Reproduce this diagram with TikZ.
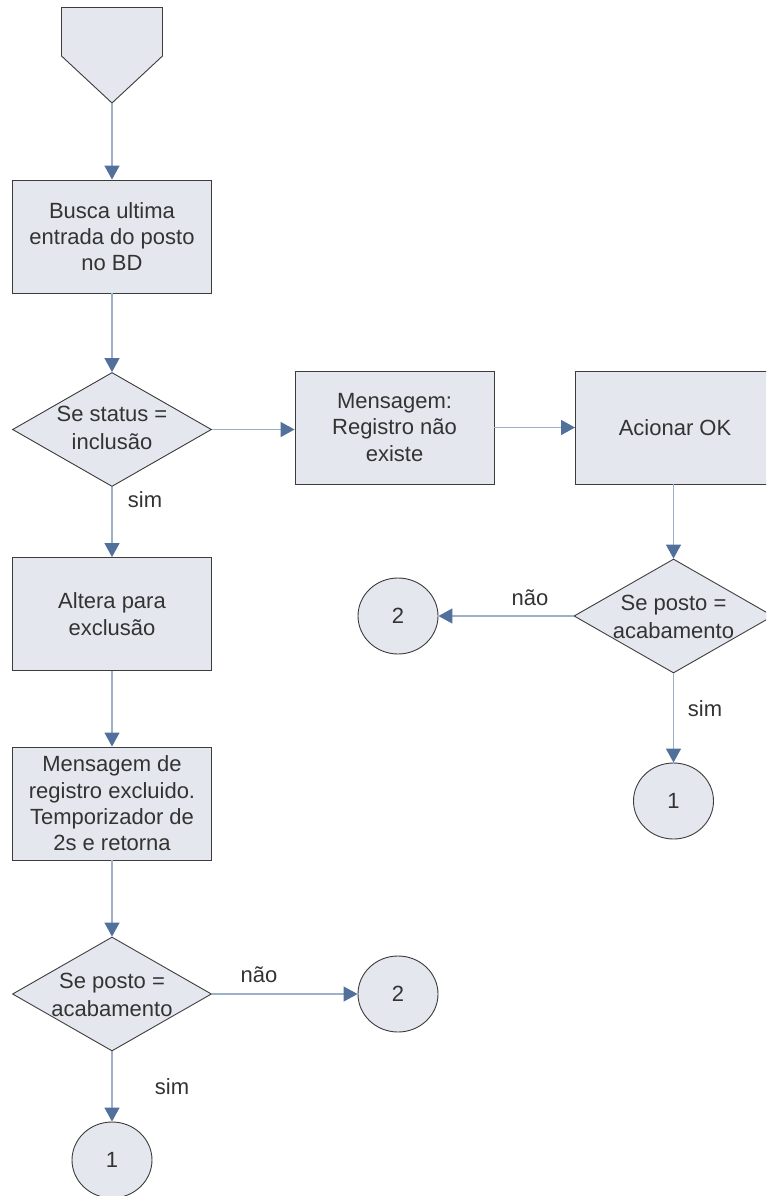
\documentclass[tikz,border=0pt]{standalone}
\usepackage{fontspec}
\setmainfont{Liberation Sans}
\usetikzlibrary{shapes.geometric,arrows.meta}
\definecolor{boxfill}{HTML}{E4E7EE}
\definecolor{boxline}{HTML}{3C3C3C}
\definecolor{connline}{HTML}{9CAFCB}
\definecolor{arrowc}{HTML}{52709C}
\definecolor{txt}{HTML}{333333}
\tikzset{
  base/.style={draw=boxline, fill=boxfill, line width=0.9pt, text=txt, inner sep=0pt, align=center,
    font=\fontsize{22}{26.3}\selectfont},
  procbox/.style={base, rectangle, minimum width=199pt, minimum height=113pt},
  decision/.style={base, diamond, minimum width=199pt, minimum height=114pt},
  dtext/.style={text=txt, inner sep=0pt, align=center, font=\fontsize{22}{28}\selectfont},
  conn/.style={base, ellipse, minimum width=80pt, minimum height=76pt},
  flow/.style={draw=connline, line width=1.4pt, -{Triangle[length=14pt, width=15pt, color=arrowc]}},
  lbl/.style={text=txt, inner sep=0pt, font=\fontsize{22}{26}\selectfont}
}
\begin{document}
\begin{tikzpicture}[x=1pt, y=-1pt]
\useasboundingbox (0,0) rectangle (766,1196);
\clip (0,0) rectangle (766,1196);
% off-page connector
\draw[draw=boxline, fill=boxfill, line width=0.9pt] (61.5,7.5) -- (162.5,7.5) -- (162.5,56) -- (112,103) -- (61.5,56) -- cycle;
\coordinate (start) at (112,103);
% left column
\node[procbox] (busca) at (112,236.5) {Busca ultima\\entrada do posto\\no BD};
\node[decision] (d1) at (112,429.5) {};
\node[dtext] (d1t) at (112,428) {Se status =\\inclusão};
\node[procbox] (altera) at (112,614) {Altera para\\exclusão};
\node[procbox] (msg2) at (112,803.5) {Mensagem de\\registro excluido.\\Temporizador de\\2s e retorna};
\node[decision] (d3) at (112,994) {};
\node[dtext] (d3t) at (112,995) {Se posto =\\acabamento};
\node[conn] (c1b) at (112,1160) {1};
\node[conn] (c2b) at (398,994) {2};
% right part
\node[procbox] (msg1) at (394.5,427.5) {Mensagem:\\Registro não\\existe};
\node[procbox] (acionar) at (675,427.5) {Acionar OK};
\node[decision] (d2) at (673.5,616) {};
\node[dtext] (d2t) at (673.5,617) {Se posto =\\acabamento};
\node[conn] (c2a) at (398,616) {2};
\node[conn] (c1a) at (673.5,801) {1};
% connectors
\draw[flow] (start) -- (busca.north);
\draw[flow] (busca.south) -- (d1.north);
\draw[flow] (d1.east) -- (d1.east -| msg1.west);
\draw[flow] (msg1.east) -- (acionar.west);
\draw[flow] (d1.south) -- (altera.north);
\draw[flow] (altera.south) -- (msg2.north);
\draw[flow] (msg2.south) -- (d3.north);
\draw[flow] (d3.east) -- (c2b.west);
\draw[flow] (d3.south) -- (c1b.north);
\draw[flow] (acionar.south -| d2.north) -- (d2.north);
\draw[flow] (d2.west) -- (c2a.east);
\draw[flow] (d2.south) -- (c1a.north);
% labels
\node[lbl] (l1) at (145,500) {sim};
\node[lbl] (l2) at (530,598) {não};
\node[lbl] (l3) at (705,709) {sim};
\node[lbl] (l4) at (259,975) {não};
\node[lbl] (l5) at (172,1087) {sim};
\end{tikzpicture}
\end{document}
